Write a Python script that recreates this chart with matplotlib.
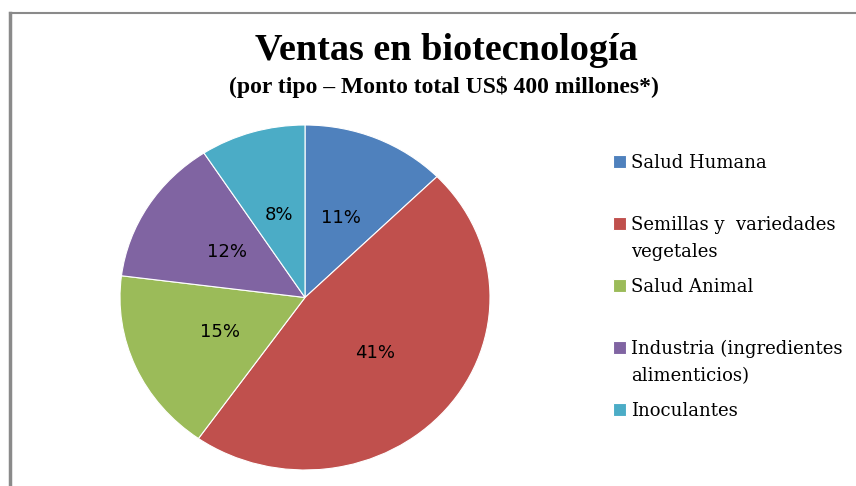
import matplotlib
matplotlib.use('Agg')
import matplotlib.pyplot as plt
from matplotlib.lines import Line2D
from matplotlib.patches import Rectangle
from matplotlib.legend_handler import HandlerPatch

# datos del grafico
categorias = ['Salud Humana', 'Semillas y  variedades\nvegetales', 'Salud Animal',
              'Industria (ingredientes\nalimenticios)', 'Inoculantes']
valores = [11, 41, 15, 12, 8]
etiquetas = ['11%', '41%', '15%', '12%', '8%']
colores = ['#4F81BD', '#C0504D', '#9BBB59', '#8064A2', '#4BACC6']

fig = plt.figure(figsize=(8.56, 4.86), dpi=100)

# marco gris (solo arriba e izquierda)
fig.add_artist(Line2D([9.5 / 856, 1], [1 - 13.5 / 486] * 2, color='#8a8a8a', lw=1.5))
fig.add_artist(Line2D([9.5 / 856] * 2, [0, 1 - 13.5 / 486], color='#8a8a8a', lw=2.5))

fig.text(446 / 856, 1 - 51 / 486, 'Ventas en biotecnología', ha='center', va='center',
         family='Liberation Serif', weight='bold', fontsize=27.5)
fig.text(444 / 856, 1 - 87 / 486, '(por tipo – Monto total US$ 400 millones*)', ha='center',
         va='center', family='Liberation Serif', weight='bold', fontsize=17)

ax = fig.add_axes([120 / 856, 16 / 486, 370 / 856, 345 / 486])
wedges, texts = ax.pie(valores, labels=etiquetas, colors=colores, startangle=90,
                       counterclock=False, labeldistance=0.5,
                       wedgeprops=dict(edgecolor='white', linewidth=0.8),
                       textprops=dict(family=['Liberation Sans Narrow', 'DejaVu Sans'],
                                      fontsize=13, color='black'))
for t in texts:
    t.set_ha('center')
    t.set_va('center')
ax.set_aspect('auto')
ax.set_xlim(-1, 1)
ax.set_ylim(-1, 1)


# cuadro de la leyenda alineado con la primera linea del texto
def cuadro(legend, orig_handle, xdescent, ydescent, width, height, fontsize):
    return Rectangle((-xdescent, -ydescent + 11.5), width, height)


leg = fig.legend(wedges, [c if '\n' in c else c + '\n ' for c in categorias],
                 loc='upper left', bbox_to_anchor=(597 / 856, 1 - 138 / 486),
                 frameon=False, handlelength=0.7, handleheight=0.7, handletextpad=0.3,
                 labelspacing=0.94, prop=dict(family='DejaVu Serif', size=13),
                 handler_map={w: HandlerPatch(patch_func=cuadro) for w in wedges})
for t in leg.get_texts():
    t.set_linespacing(1.64)

fig.savefig('out.png', dpi=100)
